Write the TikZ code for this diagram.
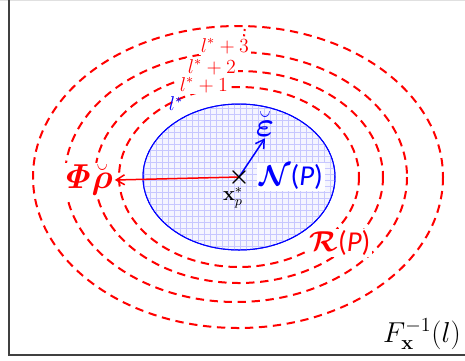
\documentclass[tikz,border=0pt]{standalone}
\usepackage{amsmath,amssymb,bm,mathtools}
\usepackage[no-math]{fontspec}
\setmainfont{Carlito}
\usetikzlibrary{arrows.meta}
\definecolor{lvred}{HTML}{FF0000}
\definecolor{nbhblue}{HTML}{0000FF}
\definecolor{framegray}{HTML}{404040}
\newcommand{\brv}[1]{\mathrlap{\breve{\phantom{#1}}}#1}

\begin{document}
\begin{tikzpicture}[x=0.6pt,y=-0.6pt,
  lvset/.style={draw=lvred,line width=1.2pt,dash pattern=on 5pt off 3.4pt},
  nbh/.style={draw=nbhblue,line width=0.6pt,fill=nbhblue!4},
  gridln/.style={draw=nbhblue!22,line width=0.3pt},
  lvl/.style={text=lvred,fill=white,inner sep=1pt,font=\large},
  big/.style={fill=white,inner sep=1pt,font=\LARGE},
  arr/.style={-{Straight Barb[length=5pt,width=6pt]},line width=0.9pt}]
  \useasboundingbox (0,0) rectangle (465,360);
  % frame: light top edge, axes left and bottom
  \draw[black!12,line width=0.6pt] (0,0.5) -- (465,0.5);
  \draw[framegray,line width=1pt] (9,0) -- (9,355) -- (465,355);
  % level sets l*+1 ... l*+3 and the outer one
  \draw[lvset] (238,177) ellipse [x radius=205,y radius=151];
  \draw[lvset] (236,177) ellipse [x radius=171,y radius=125];
  \draw[lvset] (239,177) ellipse [x radius=144,y radius=106];
  \draw[lvset] (239,177) ellipse [x radius=120,y radius=90];
  % neighbourhood N(P) with grid
  \draw[nbh] (239,177) ellipse [x radius=96,y radius=73];
  \begin{scope}
    \clip (239,177) ellipse [x radius=96,y radius=73];
    \draw[gridln,step=3.6pt] (140,100) grid (340,255);
  \end{scope}
  \draw[nbhblue,line width=0.6pt] (239,177) ellipse [x radius=96,y radius=73];
  % labels of the level sets
  \node[lvl] (l3) at (225,46) {$l^{*}+3$};
  \node[lvl] (l2) at (212,67) {$l^{*}+2$};
  \node[lvl] (l1) at (204,85) {$l^{*}+1$};
  \node[text=nbhblue,inner sep=1pt,font=\large] (l0) at (176,104) {$l^{*}$};
  \coordinate (top) at (245,26);
  \draw[lvred,line width=1.2pt,dash pattern=on 1.2pt off 2pt] (l3.north east) ++(-7,0) -- (top);
  % centre point and the two vectors
  \coordinate (c) at (239,177);
  \node[big,text=lvred,font=\huge] (rho) at (87,180) {$\bm{\mathit{\Phi}}\brv{\bm{\rho}}$};
  \node[text=nbhblue,inner sep=1pt,font=\huge] (eps) at (265,124) {$\brv{\bm{\varepsilon}}$};
  \draw[arr,lvred] (c) -- (rho.east);
  \draw[arr,nbhblue] (c) -- (eps.south);
  \node[black,font=\Large,inner sep=0pt] (cross) at (c) {$\bm{\times}$};
  \node[inner sep=1pt,font=\large] (xp) at (233,198) {$\mathbf{x}_p^{*}$};
  \node[big,text=nbhblue] (np) at (291,177) {$\bm{\mathcal{N}}$(\textit{P})};
  \node[big,text=lvred] (rp) at (340,243) {$\bm{\mathcal{R}}$(\textit{P})};
  \node[font=\LARGE] (finv) at (422,334) {$F_{\mathbf{x}}^{-1}(l)$};
\end{tikzpicture}
\end{document}
